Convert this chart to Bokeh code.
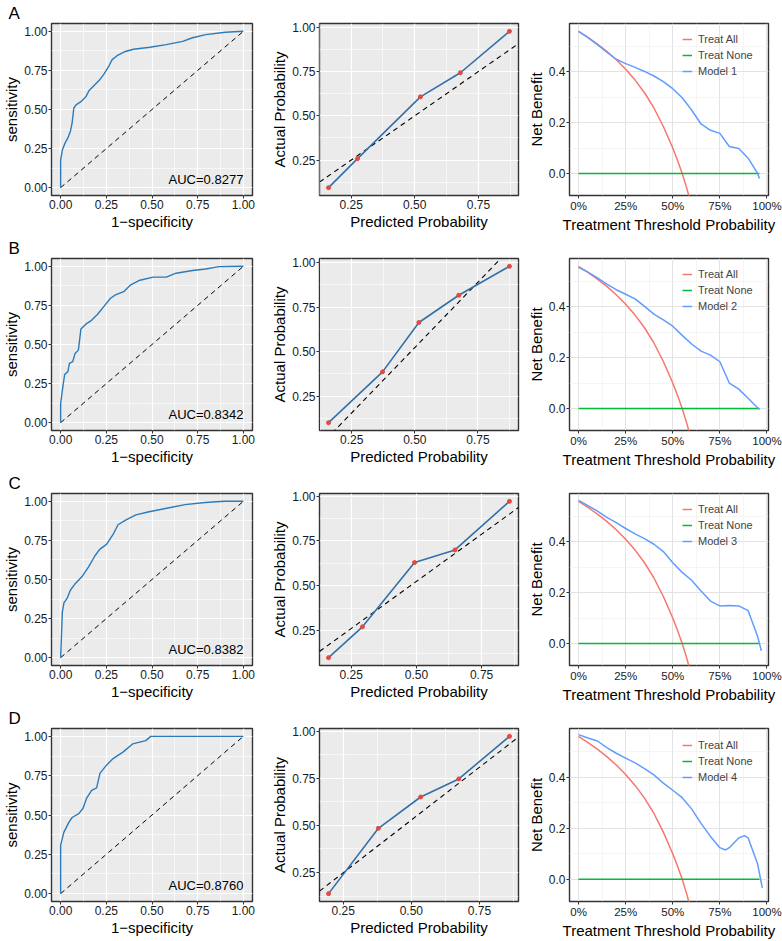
from bokeh.plotting import figure
from bokeh.layouts import gridplot
from bokeh.models import FixedTicker, NumeralTickFormatter, Range1d, Label
from bokeh.embed import file_html
from bokeh.resources import INLINE

FONT = "Liberation Sans"

panel_letters = ["A", "B", "C", "D"]
auc_labels = ["AUC=0.8277", "AUC=0.8342", "AUC=0.8382", "AUC=0.8760"]
model_names = ["Model 1", "Model 2", "Model 3", "Model 4"]

# ---- ROC curves (1-specificity, sensitivity) ----
roc_fpr_A = [0, 0, 0.009, 0.022, 0.04, 0.054, 0.063, 0.072, 0.084, 0.111, 0.138, 0.156, 0.183, 0.21, 0.237,
             0.264, 0.282, 0.309, 0.354, 0.399, 0.488, 0.578, 0.668, 0.722, 0.794, 0.901, 1.0]
roc_tpr_A = [0, 0.176, 0.239, 0.28, 0.32, 0.363, 0.415, 0.508, 0.53, 0.55, 0.581, 0.622, 0.654, 0.685, 0.726,
             0.778, 0.819, 0.844, 0.871, 0.885, 0.898, 0.915, 0.936, 0.959, 0.979, 0.994, 1.0]
roc_fpr_B = [0, 0, 0.009, 0.022, 0.04, 0.048, 0.066, 0.079, 0.097, 0.111, 0.138, 0.165, 0.201, 0.237, 0.273,
             0.3, 0.345, 0.381, 0.434, 0.506, 0.578, 0.632, 0.722, 0.794, 0.865, 1.0]
roc_tpr_B = [0, 0.12, 0.204, 0.308, 0.328, 0.38, 0.39, 0.443, 0.464, 0.599, 0.63, 0.651, 0.692, 0.744, 0.796,
             0.817, 0.838, 0.879, 0.911, 0.931, 0.931, 0.956, 0.973, 0.983, 0.998, 1.0]
roc_fpr_C = [0, 0.004, 0.009, 0.018, 0.036, 0.054, 0.081, 0.116, 0.152, 0.188, 0.215, 0.251, 0.287, 0.314,
             0.358, 0.412, 0.484, 0.573, 0.681, 0.789, 0.896, 1.0]
roc_tpr_C = [0, 0.121, 0.288, 0.35, 0.381, 0.433, 0.475, 0.517, 0.579, 0.652, 0.694, 0.725, 0.788, 0.85,
             0.881, 0.913, 0.933, 0.954, 0.979, 0.992, 1.0, 1.0]
roc_fpr_D = [0, 0, 0.018, 0.045, 0.063, 0.099, 0.122, 0.143, 0.17, 0.197, 0.215, 0.251, 0.287, 0.341, 0.394,
             0.466, 0.493, 1.0]
roc_tpr_D = [0, 0.308, 0.391, 0.453, 0.484, 0.509, 0.541, 0.609, 0.657, 0.672, 0.765, 0.817, 0.859, 0.9, 0.952,
             0.973, 1.0, 1.0]

# ---- Calibration (predicted, actual) ----
cal_pred_A = [0.161, 0.275, 0.522, 0.679, 0.872]
cal_obs_A = [0.094, 0.258, 0.607, 0.743, 0.977]
cal_pred_B = [0.158, 0.372, 0.516, 0.674, 0.875]
cal_obs_B = [0.100, 0.386, 0.664, 0.817, 0.980]
cal_pred_C = [0.163, 0.293, 0.493, 0.648, 0.857]
cal_obs_C = [0.100, 0.272, 0.630, 0.700, 0.971]
cal_pred_D = [0.196, 0.379, 0.534, 0.674, 0.860]
cal_obs_D = [0.138, 0.485, 0.651, 0.747, 0.973]
cal_ref_intercept = [0.0, -0.212, 0.0, -0.031]
cal_ref_slope = [1.0, 1.47, 1.05, 1.12]

# ---- Decision curves ----
treat_all_thr = [0.0, 0.05, 0.10, 0.15, 0.20, 0.25, 0.30, 0.35, 0.40, 0.45, 0.50, 0.525, 0.55, 0.575, 0.60]
treat_all_nb = [0.560, 0.536, 0.510, 0.481, 0.448, 0.411, 0.368, 0.318, 0.258, 0.185, 0.100, 0.052, 0.000, -0.060, -0.130]
treat_none_thr = [0.0, 0.96]
treat_none_nb = [0.0, 0.0]

m1_thr = [0, 0.05, 0.1, 0.15, 0.2, 0.25, 0.3, 0.35, 0.4, 0.45, 0.5, 0.55, 0.6, 0.65, 0.7, 0.75, 0.8, 0.85, 0.9, 0.95, 0.96]
m1_nb = [0.560, 0.535, 0.508, 0.478, 0.450, 0.433, 0.418, 0.402, 0.384, 0.362, 0.334, 0.298, 0.250, 0.195, 0.170,
         0.158, 0.106, 0.098, 0.060, 0.000, -0.020]
m2_thr = [0, 0.05, 0.1, 0.15, 0.2, 0.25, 0.3, 0.35, 0.4, 0.45, 0.5, 0.55, 0.6, 0.65, 0.7, 0.75, 0.8, 0.85, 0.9, 0.95, 0.96]
m2_nb = [0.556, 0.537, 0.515, 0.490, 0.468, 0.450, 0.432, 0.402, 0.372, 0.349, 0.324, 0.288, 0.254, 0.226, 0.210,
         0.184, 0.100, 0.076, 0.040, 0.003, -0.004]
m3_thr = [0, 0.05, 0.1, 0.15, 0.2, 0.25, 0.3, 0.35, 0.4, 0.45, 0.5, 0.55, 0.6, 0.65, 0.7, 0.75, 0.8, 0.85, 0.9, 0.95, 0.97]
m3_nb = [0.564, 0.543, 0.522, 0.497, 0.476, 0.453, 0.432, 0.413, 0.391, 0.362, 0.318, 0.280, 0.249, 0.207, 0.167,
         0.148, 0.150, 0.148, 0.129, 0.028, -0.029]
m4_thr = [0, 0.05, 0.1, 0.15, 0.2, 0.25, 0.3, 0.35, 0.4, 0.45, 0.5, 0.55, 0.6, 0.65, 0.7, 0.75, 0.78, 0.8, 0.85,
          0.88, 0.9, 0.95, 0.975]
m4_nb = [0.567, 0.554, 0.542, 0.516, 0.494, 0.475, 0.456, 0.434, 0.409, 0.377, 0.349, 0.320, 0.276, 0.219, 0.168,
         0.124, 0.115, 0.124, 0.162, 0.171, 0.162, 0.061, -0.034]

roc_data = [(roc_fpr_A, roc_tpr_A), (roc_fpr_B, roc_tpr_B), (roc_fpr_C, roc_tpr_C), (roc_fpr_D, roc_tpr_D)]
cal_data = [(cal_pred_A, cal_obs_A), (cal_pred_B, cal_obs_B), (cal_pred_C, cal_obs_C), (cal_pred_D, cal_obs_D)]
dca_data = [(m1_thr, m1_nb), (m2_thr, m2_nb), (m3_thr, m3_nb), (m4_thr, m4_nb)]

# ---- layout constants ----
COL_W = [268, 252, 262]
BORDER_L = [50, 51, 49]
BORDER_R = [16, 2, 14]
ROW_H = [235, 235, 235, 236]
TOP = 23
BOTTOM = 35

ROC_COLOR = "#2B7BBA"
CAL_COLOR = "#3470A8"
PT_COLOR = "#E8473C"
RED = "#F8766D"
GREEN = "#00BA38"
BLUE = "#619CFF"


def padded(vals, frac=0.05):
    lo, hi = min(vals), max(vals)
    d = (hi - lo) * frac
    return lo - d, hi + d


def base(col, row, xr, yr, grey):
    p = figure(width=COL_W[col], height=ROW_H[row], x_range=Range1d(*xr), y_range=Range1d(*yr),
               output_backend="svg", toolbar_location=None,
               min_border_left=BORDER_L[col], min_border_right=BORDER_R[col],
               min_border_top=TOP, min_border_bottom=BOTTOM)
    p.background_fill_color = "#EBEBEB" if grey else "white"
    p.border_fill_color = "white"
    p.outline_line_color = "#333333"
    p.outline_line_width = 1.4
    for ax in p.axis:
        ax.axis_line_color = None
        ax.major_tick_out = 3
        ax.major_tick_in = 0
        ax.minor_tick_out = 0
        ax.minor_tick_in = 0
        ax.major_tick_line_color = "#333333"
        ax.major_label_text_font = FONT
        ax.major_label_text_font_size = "12px"
        ax.major_label_text_color = "#1a1a1a"
        ax.major_label_standoff = 1
        ax.axis_label_text_font = FONT
        ax.axis_label_text_font_size = "15px"
        ax.axis_label_text_font_style = "normal"
        ax.axis_label_text_color = "black"
        ax.axis_label_standoff = 1
    if grey:
        gc, gw, mc, mw = "white", 1.2, "white", 0.6
    else:
        gc, gw, mc, mw = "#E3E3E3", 1.0, "#EEEEEE", 0.6
    for g in (p.xgrid, p.ygrid):
        g.grid_line_color = gc
        g.grid_line_width = gw
        g.minor_grid_line_color = mc
        g.minor_grid_line_width = mw
    return p


figs = []
for r in range(4):
    rowfigs = []
    # ROC
    fpr, tpr = roc_data[r]
    p = base(0, r, (-0.05, 1.05), (-0.05, 1.05), True)
    p.title.text = panel_letters[r]
    p.title.align = "left"
    p.title.offset = -43
    p.title.standoff = 2
    p.title.text_font = FONT
    p.title.text_font_size = "17px"
    p.title.text_font_style = "normal"
    p.title.text_color = "black"
    p.xaxis.ticker = FixedTicker(ticks=[0, 0.25, 0.5, 0.75, 1.0], minor_ticks=[0.125, 0.375, 0.625, 0.875])
    p.yaxis.ticker = FixedTicker(ticks=[0, 0.25, 0.5, 0.75, 1.0], minor_ticks=[0.125, 0.375, 0.625, 0.875])
    p.xaxis.formatter = NumeralTickFormatter(format="0.00")
    p.yaxis.formatter = NumeralTickFormatter(format="0.00")
    p.xaxis.axis_label = "1\u2212specificity"
    p.yaxis.axis_label = "sensitivity"
    p.line([0, 1], [0, 1], line_color="black", line_dash="5 4", line_width=1)
    p.line(fpr, tpr, line_color=ROC_COLOR, line_width=1.4)
    p.add_layout(Label(x=1.0, y=0.05, text=auc_labels[r], text_align="right", text_baseline="middle",
                       text_font=FONT, text_font_size="13px", text_color="black"))
    rowfigs.append(p)

    # Calibration
    xp, yo = cal_data[r]
    xr = padded(xp)
    yr = padded(yo)
    p = base(1, r, xr, yr, True)
    p.xaxis.ticker = FixedTicker(ticks=[0.25, 0.5, 0.75], minor_ticks=[0.125, 0.375, 0.625, 0.875])
    p.yaxis.ticker = FixedTicker(ticks=[0.25, 0.5, 0.75, 1.0], minor_ticks=[0.125, 0.375, 0.625, 0.875])
    p.xaxis.formatter = NumeralTickFormatter(format="0.00")
    p.yaxis.formatter = NumeralTickFormatter(format="0.00")
    p.xaxis.axis_label = "Predicted Probability"
    p.yaxis.axis_label = "Actual Probability"
    b0, b1 = cal_ref_intercept[r], cal_ref_slope[r]
    p.line([xr[0], xr[1]], [b0 + b1 * xr[0], b0 + b1 * xr[1]], line_color="black", line_dash="5 4", line_width=1.1)
    p.line(xp, yo, line_color=CAL_COLOR, line_width=1.6)
    p.scatter(xp, yo, size=4, color=PT_COLOR)
    rowfigs.append(p)

    # Decision curve
    thr, nb = dca_data[r]
    p = base(2, r, (-0.048, 1.008), (-0.087, 0.591), False)
    p.xaxis.ticker = FixedTicker(ticks=[0, 0.25, 0.5, 0.75, 1.0], minor_ticks=[0.125, 0.375, 0.625, 0.875])
    p.yaxis.ticker = FixedTicker(ticks=[0.0, 0.2, 0.4], minor_ticks=[-0.1, 0.1, 0.3, 0.5])
    p.xaxis.formatter = NumeralTickFormatter(format="0%")
    p.yaxis.formatter = NumeralTickFormatter(format="0.0")
    p.xaxis.major_label_text_font_size = "11.5px"
    p.xaxis.axis_label = "Treatment Threshold Probability"
    p.yaxis.axis_label = "Net Benefit"
    p.line(treat_all_thr, treat_all_nb, line_color=RED, line_width=1.5, legend_label="Treat All")
    p.line(treat_none_thr, treat_none_nb, line_color=GREEN, line_width=1.5, legend_label="Treat None")
    p.line(thr, nb, line_color=BLUE, line_width=1.5, legend_label=model_names[r])
    lg = p.legend[0]
    lg.location = (113, 116)
    lg.margin = 0
    lg.padding = 5
    lg.spacing = 0
    lg.label_height = 16
    lg.glyph_height = 16
    lg.glyph_width = 10
    lg.label_standoff = 6
    lg.label_text_font = FONT
    lg.label_text_font_size = "11px"
    lg.border_line_color = None
    lg.background_fill_alpha = 0
    rowfigs.append(p)
    figs.append(rowfigs)

grid = gridplot(figs, toolbar_location=None)
open("out.html", "w").write(file_html(grid, INLINE))
